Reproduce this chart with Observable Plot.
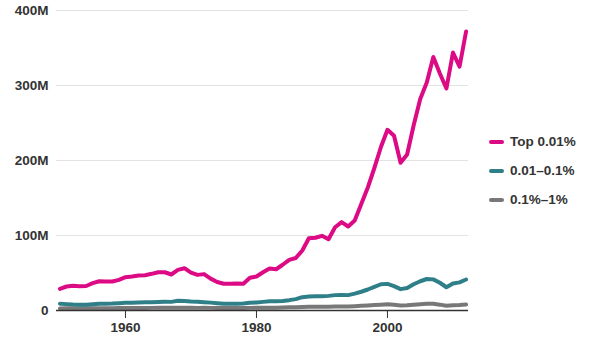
<!DOCTYPE html>
<html>
<head>
<meta charset="utf-8">
<script src="https://cdn.jsdelivr.net/npm/d3@7"></script>
<script src="https://cdn.jsdelivr.net/npm/@observablehq/plot@0.6"></script>
<style>
  html, body { margin: 0; padding: 0; background: #fff; }
  #wrap { position: relative; width: 600px; height: 351px; font-family: "Liberation Sans", Arial, sans-serif; }
  #legend { position: absolute; left: 489px; top: 127px; }
  .item { display: flex; align-items: center; height: 29px; font-weight: bold; font-size: 13.5px; color: #333; }
  .sw { width: 15px; height: 4px; border-radius: 2px; margin-right: 6px; }
</style>
</head>
<body>
<div id="wrap"><div id="legend"></div></div>
<script>
const years = d3.range(1950, 2013);
const seriesNames = ["Top 0.01%", "0.01–0.1%", "0.1%–1%"];
const seriesColors = ["#dc0a84", "#2f7f89", "#787878"];
const yTicks = [0, 100, 200, 300, 400];
const xTicks = [1960, 1980, 2000];

// Top 0.01% (millions)
const top001 = [
  28.9, 32, 33, 32.4, 32.7, 36.4, 39, 38.7, 38.7, 40.9,
  44.4, 45.3, 46.7, 47.1, 48.9, 51, 51, 48, 54.2, 56.4,
  50.5, 47.5, 48.5, 42.5, 38, 35.6, 35.6, 35.9, 35.6, 43.6,
  45.3, 51, 56, 55, 61, 67.5, 70, 80, 96.4, 97,
  99.6, 95, 111, 117.8, 112, 120, 142, 164, 190, 218,
  241, 233, 197, 208, 247, 282, 304, 338, 316, 296,
  344, 325, 372
];
// 0.01–0.1%
const mid = [
  9, 8.5, 8, 7.8, 7.6, 8.2, 8.9, 9, 9.3, 9.8,
  10.2, 10.4, 10.7, 10.9, 11.1, 11.3, 11.6, 11.5, 12.9, 12.8,
  12, 11.6, 11.1, 10.5, 9.8, 9, 8.9, 8.9, 9.2, 10.2,
  10.8, 11.5, 12.3, 12.3, 12.8, 13.8, 15.2, 17.8, 18.8, 19,
  19, 19.5, 20.5, 20.8, 20.5, 22.5, 25, 28, 31.5, 35,
  35.5, 32.5, 28.5, 30, 35, 39, 42, 41.5, 37, 31,
  36, 37.5, 41.3
];
// 0.1%–1%
const low = [
  2.8, 2.9, 2.9, 2.9, 2.9, 3.0, 3.1, 3.1, 3.1, 3.2,
  3.3, 3.3, 3.4, 3.4, 3.5, 3.6, 3.6, 3.6, 3.8, 3.8,
  3.6, 3.5, 3.6, 3.5, 3.3, 3.2, 3.3, 3.3, 3.4, 3.5,
  3.6, 3.6, 3.7, 3.8, 4.0, 4.2, 4.4, 4.6, 4.9, 5.0,
  5.0, 5.0, 5.3, 5.3, 5.4, 5.8, 6.2, 6.7, 7.2, 7.8,
  8.4, 7.7, 6.8, 7.0, 7.8, 8.4, 8.9, 8.9, 7.8, 6.4,
  7.0, 7.3, 8.0
];

const rows = (vals, name) => years.map((y, i) => ({year: y, value: vals[i], series: name}));
const data = [
  ...rows(low, seriesNames[2]),
  ...rows(mid, seriesNames[1]),
  ...rows(top001, seriesNames[0])
];

const chart = Plot.plot({
  width: 600,
  height: 351,
  marginLeft: 56,
  marginRight: 132,
  marginTop: 10,
  marginBottom: 41,
  style: {fontFamily: "'Liberation Sans', Arial, sans-serif", fontSize: "13.5px", fontWeight: "bold", color: "#333", background: "#fff"},
  x: {domain: [1949.47, 2012.37]},
  y: {domain: [0, 400]},
  color: {domain: seriesNames, range: seriesColors},
  marks: [
    Plot.gridY(yTicks.filter(d => d > 0), {stroke: "#e2e2e2", strokeOpacity: 1, strokeWidth: 1}),
    Plot.axisY(yTicks, {tickSize: 0, tickPadding: 8, tickFormat: d => d === 0 ? "0" : d + "M", fill: "#333", label: null}),
    Plot.axisX(xTicks, {tickSize: 8, tickPadding: 4, tickFormat: d => String(d), fill: "#333", stroke: "#333", label: null}),
    Plot.line(data, {x: "year", y: "value", z: "series", stroke: "series", strokeWidth: 4, strokeLinejoin: "round", strokeLinecap: "round"}),
    Plot.ruleY([0], {stroke: "#333", strokeWidth: 1.5})
  ]
});
document.getElementById("wrap").prepend(chart);

const legend = document.getElementById("legend");
seriesNames.forEach((name, i) => {
  const item = document.createElement("div");
  item.className = "item";
  const sw = document.createElement("span");
  sw.className = "sw";
  sw.style.background = seriesColors[i];
  const t = document.createElement("span");
  t.textContent = name;
  item.appendChild(sw);
  item.appendChild(t);
  legend.appendChild(item);
});
</script>
</body>
</html>
